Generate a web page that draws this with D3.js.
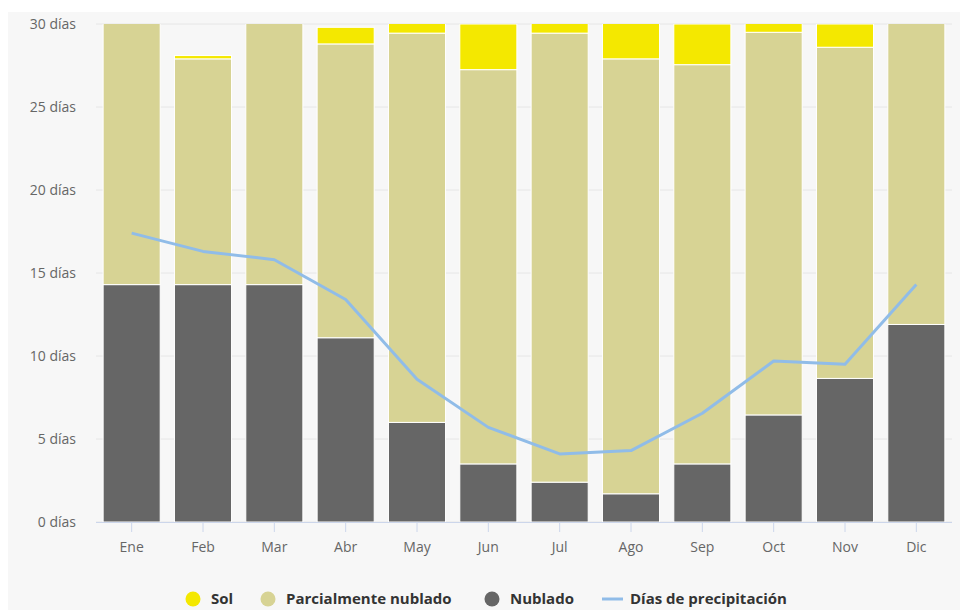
<!DOCTYPE html>
<html><head><meta charset="utf-8">
<script src="https://cdn.jsdelivr.net/npm/d3@7"></script>
<style>
body{margin:0;background:#fff;}
svg{display:block;font-family:"Open Sans","DejaVu Sans",sans-serif;}
</style></head>
<body><svg id="c" width="960" height="610"></svg>
<script>
const months = ["Ene","Feb","Mar","Abr","May","Jun","Jul","Ago","Sep","Oct","Nov","Dic"];
const nublado = [14.3,14.3,14.3,11.1,6.0,3.5,2.4,1.7,3.5,6.45,8.65,11.9];
const parcial = [16.7,13.6,16.7,17.7,23.45,23.75,27.05,26.2,24.05,23.05,19.95,19.1];
const sol     = [0,0.2,0,1.0,1.55,2.75,1.55,3.1,2.45,1.5,1.4,0];
const precip  = [17.4,16.3,15.8,13.4,8.6,5.7,4.1,4.3,6.55,9.7,9.5,14.3];
const yTicks  = [0,5,10,15,20,25,30];
const legendItems = [
  {name:"Sol", color:"#f4e800", type:"circle"},
  {name:"Parcialmente nublado", color:"#d7d394", type:"circle"},
  {name:"Nublado", color:"#666666", type:"circle"},
  {name:"Días de precipitación", color:"#90bce8", type:"line"}
];

const svg = d3.select("#c");
svg.append("rect").attr("x",8).attr("y",12).attr("width",952).attr("height",598).attr("fill","#f7f7f7");

const pLeft=96, pRight=952, pTop=24, pBottom=522;
const x = d3.scaleBand().domain(months).range([pLeft,pRight]).paddingInner(0.2).paddingOuter(0.1);
const y = d3.scaleLinear().domain([0,30]).range([pBottom,pTop]);

// gridlines
svg.append("g").selectAll("line").data(yTicks).join("line")
  .attr("x1",pLeft).attr("x2",pRight).attr("y1",d=>y(d)).attr("y2",d=>y(d))
  .attr("stroke","#e6e6e6").attr("stroke-width",1);

// y labels
svg.append("g").selectAll("text").data(yTicks).join("text")
  .attr("x",76).attr("y",d=>y(d)).attr("dy","0.35em").attr("text-anchor","end")
  .attr("font-size",14).attr("fill","#666").text(d=>d+" días");

svg.append("clipPath").attr("id","clip").append("rect")
  .attr("x",pLeft).attr("y",pTop).attr("width",pRight-pLeft).attr("height",pBottom-pTop);

const data = months.map((m,i)=>({m, nublado:nublado[i], parcial:parcial[i], sol:sol[i]}));
const stack = d3.stack().keys(["nublado","parcial","sol"])(data);
const colors = {nublado:"#666666", parcial:"#d7d394", sol:"#f4e800"};

const gBars = svg.append("g").attr("clip-path","url(#clip)");
gBars.selectAll("g").data(stack).join("g").attr("fill",d=>colors[d.key])
  .selectAll("rect").data(d=>d).join("rect")
  .attr("x",d=>x(d.data.m)).attr("width",x.bandwidth())
  .attr("y",d=>y(d[1])).attr("height",d=>Math.max(0,y(d[0])-y(d[1])))
  .attr("stroke","#fff").attr("stroke-width",1);

// x axis
svg.append("line").attr("x1",pLeft).attr("x2",pRight).attr("y1",pBottom+0.5).attr("y2",pBottom+0.5)
  .attr("stroke","#ccd6eb").attr("stroke-width",1);
svg.append("g").selectAll("line").data(months).join("line")
  .attr("x1",d=>x(d)+x.bandwidth()/2).attr("x2",d=>x(d)+x.bandwidth()/2)
  .attr("y1",pBottom).attr("y2",pBottom+10).attr("stroke","#ccd6eb");
svg.append("g").selectAll("text").data(months).join("text")
  .attr("x",d=>x(d)+x.bandwidth()/2).attr("y",547).attr("dy","0.35em").attr("text-anchor","middle")
  .attr("font-size",14).attr("fill","#666").text(d=>d);

// precipitation line
const line = d3.line().x((d,i)=>x(months[i])+x.bandwidth()/2).y(d=>y(d));
svg.append("path").datum(precip).attr("d",line).attr("fill","none")
  .attr("stroke","#90bce8").attr("stroke-width",3).attr("stroke-linejoin","round");

// legend
const lx = [193, 268, 492, 602];
const ly = 599;
const lg = svg.append("g");
legendItems.forEach((it,i)=>{
  if(it.type==="circle"){
    lg.append("circle").attr("cx",lx[i]).attr("cy",ly).attr("r",7.5).attr("fill",it.color);
    lg.append("text").attr("x",lx[i]+18).attr("y",ly).attr("dy","0.35em")
      .attr("font-size",15).attr("font-weight","bold").attr("fill","#333").text(it.name);
  } else {
    lg.append("line").attr("x1",lx[i]).attr("x2",lx[i]+21).attr("y1",ly).attr("y2",ly)
      .attr("stroke",it.color).attr("stroke-width",3);
    lg.append("text").attr("x",lx[i]+28).attr("y",ly).attr("dy","0.35em")
      .attr("font-size",15).attr("font-weight","bold").attr("fill","#333").text(it.name);
  }
});
</script></body></html>
